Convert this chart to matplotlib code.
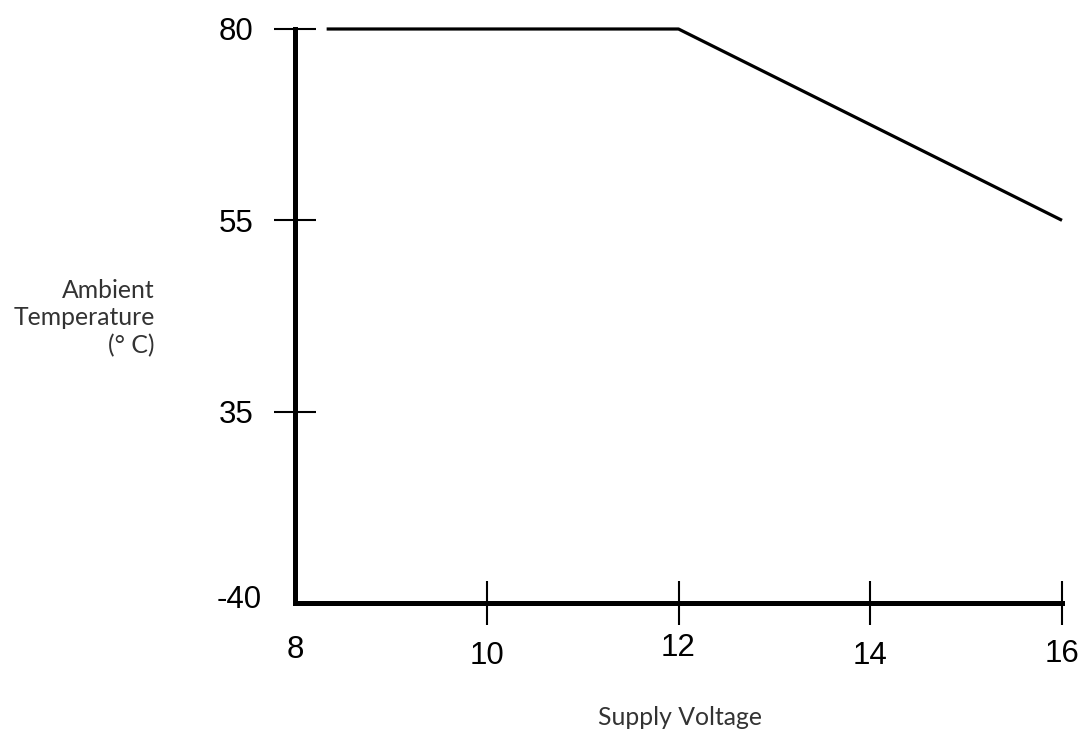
import numpy as np
import matplotlib
matplotlib.use("Agg")
import matplotlib.pyplot as plt

# ---- data ----
voltage = [8.33, 12, 16]
temperature = [80, 80, 55]
x_ticks = [8, 10, 12, 14, 16]
x_tick_labels = ["8", "10", "12", "14", "16"]
y_ticks = [-40, 35, 55, 80]
y_tick_labels = ["-40", "35", "55", "80"]
x_label = "Supply Voltage"
y_label = "Ambient\nTemperature\n(° C)"

# y axis: tick values equally spaced (non-linear scale)
positions = np.arange(len(y_ticks), dtype=float)

def fwd(v):
    return np.interp(v, y_ticks, positions)

def inv(p):
    return np.interp(p, positions, y_ticks)

W, H = 1078, 732
fig = plt.figure(figsize=(W / 100, H / 100), dpi=100)
ax = fig.add_axes([295 / W, (H - 603) / H, (1062 - 295) / W, (603 - 29) / H])
ax.set_yscale("function", functions=(fwd, inv))
ax.set_xlim(x_ticks[0], x_ticks[-1])
ax.set_ylim(y_ticks[0], y_ticks[-1])

ax.plot(voltage, temperature, color="black", lw=2.3, clip_on=False,
        solid_capstyle="butt", zorder=3)

for s in ["top", "right"]:
    ax.spines[s].set_visible(False)
for s in ["left", "bottom"]:
    ax.spines[s].set_linewidth(3.6)
    ax.spines[s].set_color("black")
    ax.spines[s].set_capstyle("projecting")

tick_font = dict(family=["Liberation Sans", "DejaVu Sans"], size=22.5)
ax.set_xticks(x_ticks)
ax.set_xticklabels(x_tick_labels, fontdict=tick_font)
ax.set_yticks(y_ticks)
ax.set_yticklabels(y_tick_labels, fontdict=tick_font)
ax.yaxis.set_minor_locator(matplotlib.ticker.NullLocator())
ax.xaxis.set_minor_locator(matplotlib.ticker.NullLocator())

ax.tick_params(axis="y", direction="inout", length=30, width=1.5, pad=15,
               colors="black")
ax.tick_params(axis="x", direction="inout", length=31.7, width=1.5,
               colors="black")

# staggered x tick label pads
x_pads = [7, 11.5, 6, 11.5, 10]
for t, p in zip(ax.xaxis.get_major_ticks(), x_pads):
    t.set_pad(p)
# no tick mark at the origin
ax.xaxis.get_major_ticks()[0].tick1line.set_visible(False)
yt0 = ax.yaxis.get_major_ticks()[0]
yt0.tick1line.set_visible(False)
yt0.label1.set_visible(False)
ax.annotate(y_tick_labels[0], xy=(x_ticks[0], y_ticks[0]), xytext=(-23.8, 5),
            textcoords="offset points", ha="right", va="center_baseline",
            annotation_clip=False,
            **{"family": tick_font["family"], "size": tick_font["size"]})

label_font = dict(family=["Lato", "DejaVu Sans"], size=17.8, color="#333333")
fig.text(155 / W, 1 - 353 / H, y_label, ha="right", va="baseline",
         multialignment="right", linespacing=1.24, **label_font)
fig.text(680 / W, 1 - 725 / H, x_label, ha="center", va="baseline", **label_font)

fig.savefig("out.png", dpi=100)
